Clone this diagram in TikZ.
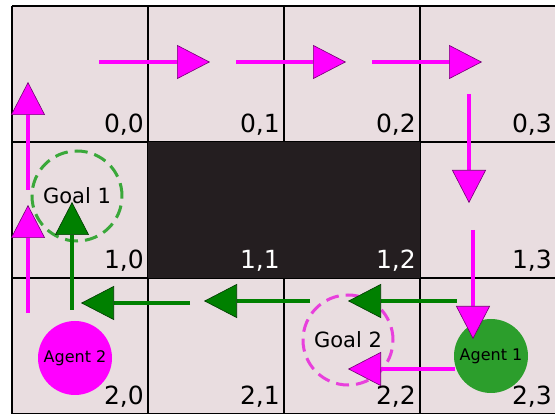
\documentclass[tikz,border=0pt]{standalone}
\usepackage{fontspec}
\setmainfont{DejaVu Sans}
\definecolor{cellpink}{RGB}{233,221,224}
\definecolor{wallgrey}{RGB}{36,30,32}
\definecolor{pathmag}{RGB}{255,0,255}
\definecolor{pathgreen}{RGB}{0,128,0}
\definecolor{agentgreen}{RGB}{44,158,44}
\definecolor{ringgreen}{RGB}{58,168,58}
\definecolor{ringmag}{RGB}{232,64,220}
\usetikzlibrary{arrows.meta}

\begin{document}
\begin{tikzpicture}[
  x=1pt, y=-1pt,
  gridline/.style={black, line width=2.5pt},
  cellnum/.style={anchor=base east, inner sep=0pt, font=\fontsize{25}{30}\selectfont},
  magarrow/.style={pathmag, line width=4pt,
    -{Triangle[length=33pt, width=34pt, color=pathmag!45!black, fill=pathmag, line width=0.6pt]}},
  greenarrow/.style={pathgreen, line width=4pt,
    -{Triangle[length=33pt, width=34pt, color=pathgreen!45!black, fill=pathgreen, line width=0.6pt]}},
  goalring/.style={circle, line width=3pt, dash pattern=on 13pt off 7pt,
    minimum size=90pt, inner sep=0pt, font=\fontsize{21}{25}\selectfont},
  agent/.style={circle, minimum size=74pt, inner sep=0pt, font=\fontsize{16}{19}\selectfont},
]
\useasboundingbox (0,0) rectangle (555,414);

% Cells
\fill[cellpink] (12,6) rectangle (556,414);

% Grid
\foreach \c in {0,...,4}
  \draw[gridline] ({12+136*\c},6) -- ({12+136*\c},414);
\foreach \r in {0,...,3}
  \draw[gridline] (12,{6+136*\r}) -- (556,{6+136*\r});

% Wall
\fill[wallgrey] (148,142) rectangle (420,278);

% Goals
\node[goalring, draw=ringgreen] (goal1) at (77,196) {Goal 1};
\node[goalring, draw=ringmag] (goal2) at (348,340) {Goal 2};

% Agents
\node[agent, fill=pathmag] (agent2) at (75,358) {Agent 2};
\node[agent, fill=agentgreen] (agent1) at (491,356) {Agent 1};

% Cell numbers
\foreach \r in {0,1,2}{
  \foreach \c in {0,...,3}{
    \pgfmathtruncatemacro\iswall{(\r==1)&&(\c>0)&&(\c<3)}
    \ifnum\iswall=1 \def\numcol{white}\else\def\numcol{black}\fi
    \node[cellnum, text=\numcol] (n\r\c) at ({12+136*(\c+1)-4},{6+136*(\r+1)-9}) {\r,\c};
  }
}

% Path of agent 2
\draw[magarrow] (28,313) -- (28,205);
\draw[magarrow] (28,190) -- (28,82);
\draw[magarrow] (99,62) -- (210,62);
\draw[magarrow] (236,62) -- (346,62);
\draw[magarrow] (372,62) -- (482,62);
\draw[magarrow] (469,94) -- (469,203);
\draw[magarrow] (473,230) -- (473,339);
\draw[magarrow] (455,369) -- (348,369);

% Path of agent 1
\draw[greenarrow] (457,301) -- (348,301);
\draw[greenarrow] (310,301) -- (204,301);
\draw[greenarrow] (190,303) -- (81,303);
\draw[greenarrow] (72,310) -- (72,202);

\end{tikzpicture}
\end{document}
